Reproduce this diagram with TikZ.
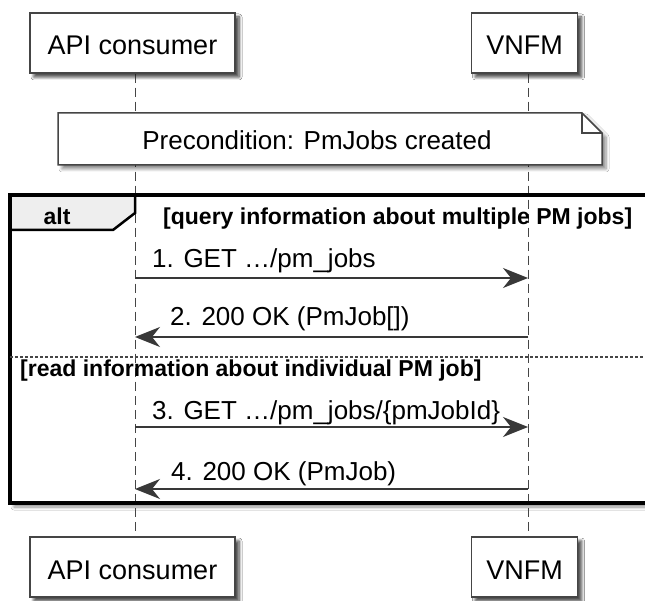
\documentclass[tikz,border=0pt]{standalone}
\usepackage{fontspec}
\setmainfont{Liberation Sans}
\usetikzlibrary{arrows.meta,shadows,shadows.blur}
\definecolor{lg}{HTML}{454545}
\definecolor{ag}{HTML}{383838}
\definecolor{tabfill}{HTML}{EEEEEE}
\begin{document}
\begin{tikzpicture}[x=1pt,y=-1pt,
  shad/.style={blur shadow={shadow xshift=4pt, shadow yshift=-4pt, shadow blur radius=3pt, shadow blur steps=6, shadow opacity=45}},
  part/.style={draw=lg, line width=1.5pt, fill=white, inner sep=0pt, minimum height=60pt,
    text height=24pt, text depth=0pt, font=\fontsize{27}{32}\selectfont, shad},
  life/.style={draw=lg, line width=1pt, dash pattern=on 9pt off 5pt},
  msg/.style={draw=ag, line width=1.5pt, -{Stealth[length=25pt,width=20pt,inset=8pt,fill=ag]}},
  msgtext/.style={font=\fontsize{26}{30}\selectfont, inner sep=0pt, anchor=base west},
  grouptext/.style={font=\bfseries\fontsize{23}{27}\selectfont, inner sep=0pt, anchor=base west},
  notetext/.style={font=\fontsize{26}{30}\selectfont, inner sep=0pt, anchor=base},
]
\useasboundingbox (0,0) rectangle (645,601);
\fill[white] (0,0) rectangle (645,601);

% alt frame background with shadow
\path[fill=white, shad] (10,195) rectangle (670,503);

% participants (positions)
\node[part, minimum width=205pt] (apitop) at (132.5,43) {API consumer};
\node[part, minimum width=106pt] (vnfmtop) at (524.5,43) {VNFM};
\node[part, minimum width=205pt] (apibot) at (132.5,567) {API consumer};
\node[part, minimum width=106pt] (vnfmbot) at (524.5,567) {VNFM};

% lifelines
\coordinate (lA) at (135,0);
\coordinate (lB) at (528,0);
\draw[life] (apitop.south -| lA) -- (apibot.north -| lA);
\draw[life] (vnfmtop.south -| lB) -- (vnfmbot.north -| lB);
% redraw boxes over lifelines
\node[part, minimum width=205pt] (apitop2) at (apitop) {API consumer};
\node[part, minimum width=106pt] (vnfmtop2) at (vnfmtop) {VNFM};
\node[part, minimum width=205pt] (apibot2) at (apibot) {API consumer};
\node[part, minimum width=106pt] (vnfmbot2) at (vnfmbot) {VNFM};

% note
\draw[draw=lg, line width=1.5pt, fill=white, line join=miter, shad]
  (58,113) -- (582,113) -- (602,133) -- (602,165) -- (58,165) -- cycle;
\draw[draw=lg, line width=1.5pt] (582,113) -- (582,133) -- (602,133);
\node[notetext] (note) at (317,150) {Precondition: PmJobs created};

% alt tab
\draw[fill=tabfill, line width=2.5pt, line join=miter]
  (10,195) -- (135,195) -- (135,213) -- (113,230) -- (10,230) -- cycle;
% frame border
\draw[line width=3.5pt] (10,195) rectangle (670,503);
\node[grouptext, anchor=base] (alt) at (57,225) {alt};
\node[grouptext] (g1) at (163,225) {[query information about multiple PM jobs]};

% separator
\draw[draw=lg, line width=1.2pt, dash pattern=on 2.5pt off 2.5pt] (10,357) -- (670,357);
\node[grouptext] (g2) at (20,377) {[read information about individual PM job]};

% messages
\coordinate (m1a) at (135,278); \coordinate (m1b) at (528,278);
\coordinate (m2a) at (135,337); \coordinate (m2b) at (528,337);
\coordinate (m3a) at (135,427); \coordinate (m3b) at (528,427);
\coordinate (m4a) at (135,489); \coordinate (m4b) at (528,489);
\draw[msg] (m1a) -- (m1b);
\draw[msg] (m2b) -- (m2a);
\draw[msg] (m3a) -- (m3b);
\draw[msg] (m4b) -- (m4a);
\node[msgtext] (t1) at (152,268) {1. GET …/pm\_jobs};
\node[msgtext] (t2) at (170,326) {2. 200 OK (PmJob[])};
\node[msgtext] (t3) at (152,419) {3. GET …/pm\_jobs/\{pmJobId\}};
\node[msgtext] (t4) at (171,480) {4. 200 OK (PmJob)};
\end{tikzpicture}
\end{document}
